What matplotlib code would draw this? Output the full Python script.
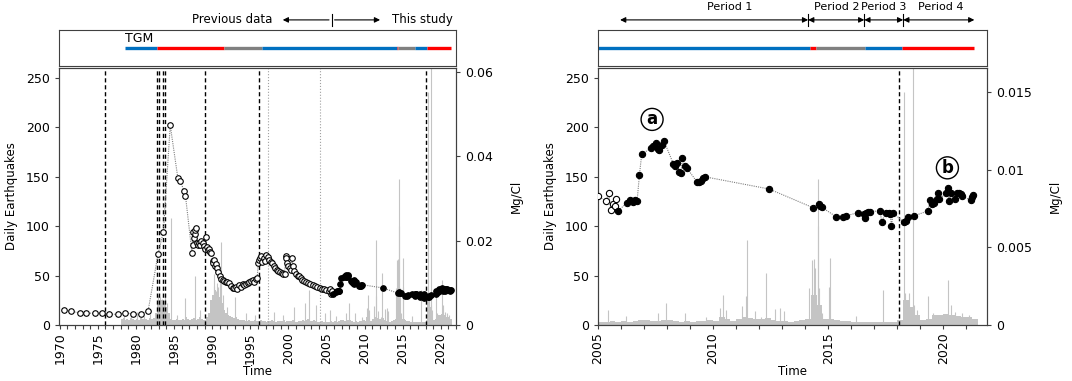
import matplotlib.pyplot as plt
import matplotlib.transforms as mtransforms

# Mg/Cl, previous data (open circles)
prev_year = [1970.5, 1971.5, 1972.6, 1973.5, 1974.6, 1975.5, 1976.5, 1977.6, 1978.6, 1979.6,
             1980.6, 1981.6, 1982.9, 1983.6, 1984.5, 1985.5, 1985.8, 1986.3, 1986.5,
             1987.35, 1987.45, 1987.5, 1987.6, 1987.7, 1987.8, 1987.9, 1988.0, 1988.15, 1988.3,
             1988.45, 1988.6, 1988.75, 1988.9, 1989.0, 1989.15, 1989.3, 1989.45, 1989.6, 1989.75,
             1989.9, 1990.05, 1990.15, 1990.3, 1990.4, 1990.55, 1990.7, 1990.8, 1991.0, 1991.2,
             1991.4, 1991.6, 1991.8, 1992.0, 1992.25, 1992.45, 1992.7, 1992.9, 1993.1, 1993.3,
             1993.5, 1993.75, 1994.0, 1994.2, 1994.45, 1994.7, 1994.9, 1995.1, 1995.3, 1995.5,
             1995.7, 1995.9, 1996.05, 1996.15, 1996.3, 1996.45, 1996.6, 1996.75, 1996.9, 1997.1,
             1997.3, 1997.5, 1997.7, 1997.9, 1998.1, 1998.3, 1998.5, 1998.7, 1998.9, 1999.1,
             1999.3, 1999.5, 1999.65, 1999.75, 1999.85, 2000.0, 2000.2, 2000.35, 2000.5, 2000.6,
             2000.8, 2001.0, 2001.2, 2001.4, 2001.6, 2001.8, 2002.0, 2002.3, 2002.6, 2002.9,
             2003.2, 2003.5, 2003.8, 2004.1, 2004.4, 2004.7, 2005.0, 2005.35, 2005.46, 2005.56,
             2005.67, 2005.72, 2005.77]
prev_mgcl = [0.0036, 0.0032, 0.0029, 0.0028, 0.0028, 0.0029, 0.0026, 0.0025, 0.0029, 0.0026,
             0.0025, 0.0034, 0.0168, 0.0221, 0.0473, 0.0348, 0.0342, 0.0318, 0.0306,
             0.0171, 0.0221, 0.0190, 0.0206, 0.0215, 0.0225, 0.0229, 0.0194, 0.0190, 0.0195,
             0.0190, 0.0198, 0.0194, 0.0187, 0.0180, 0.0209, 0.0185, 0.0178, 0.0180, 0.0173,
             0.0170, 0.0152, 0.0146, 0.0154, 0.0140, 0.0145, 0.0135, 0.0126, 0.0115, 0.0110,
             0.0107, 0.0104, 0.0101, 0.0103, 0.0099, 0.0092, 0.0088, 0.0087, 0.0091, 0.0086,
             0.0094, 0.0091, 0.0097, 0.0095, 0.0098, 0.0099, 0.0103, 0.0105, 0.0107, 0.0103,
             0.0110, 0.0112, 0.0146, 0.0154, 0.0158, 0.0164, 0.0150, 0.0158, 0.0152, 0.0166,
             0.0162, 0.0155, 0.0150, 0.0146, 0.0140, 0.0135, 0.0131, 0.0127, 0.0126, 0.0124,
             0.0122, 0.0121, 0.0164, 0.0158, 0.0146, 0.0140, 0.0135, 0.0130, 0.0158, 0.0140,
             0.0128, 0.0120, 0.0117, 0.0115, 0.0111, 0.0107, 0.0105, 0.0103, 0.0099, 0.0097,
             0.0095, 0.0093, 0.0090, 0.0087, 0.0086, 0.0085, 0.0083, 0.0080, 0.0085, 0.0074,
             0.0078, 0.0077, 0.0081]

# Mg/Cl, this study (filled circles)
study_year = [2005.87, 2006.28, 2006.40, 2006.50, 2006.60, 2006.70, 2006.80, 2006.90, 2007.30, 2007.40,
              2007.50, 2007.60, 2007.65, 2007.77, 2007.86, 2008.28, 2008.35, 2008.42, 2008.52, 2008.60,
              2008.67, 2008.80, 2008.87, 2009.29, 2009.40, 2009.47, 2009.54, 2009.63, 2012.43, 2014.35,
              2014.58, 2014.65, 2014.72, 2015.35, 2015.63, 2015.76, 2016.28, 2016.57, 2016.60, 2016.65,
              2016.74, 2016.80, 2017.26, 2017.32, 2017.50, 2017.64, 2017.70, 2017.75, 2017.82, 2018.29,
              2018.40, 2018.47, 2018.75, 2019.33, 2019.42, 2019.49, 2019.58, 2019.72, 2019.79, 2019.83,
              2020.14, 2020.20, 2020.25, 2020.35, 2020.50, 2020.60, 2020.68, 2020.76, 2020.80, 2021.20,
              2021.25, 2021.30]
study_mgcl = [0.00737, 0.00789, 0.00806, 0.00795, 0.00806, 0.00802, 0.00967, 0.01103, 0.01139, 0.01154,
              0.01176, 0.01133, 0.01129, 0.01161, 0.01189, 0.01037, 0.01024, 0.01044, 0.00989, 0.00978,
              0.01075, 0.01024, 0.01010, 0.00925, 0.00923, 0.00929, 0.00946, 0.00956, 0.00877, 0.00756,
              0.00780, 0.00769, 0.00759, 0.00698, 0.00694, 0.00703, 0.00724, 0.00716, 0.00688, 0.00724,
              0.00730, 0.00730, 0.00737, 0.00666, 0.00720, 0.00720, 0.00716, 0.00638, 0.00724, 0.00662,
              0.00670, 0.00698, 0.00705, 0.00735, 0.00806, 0.00780, 0.00789, 0.00810, 0.00849, 0.00810,
              0.00853, 0.00885, 0.00802, 0.00849, 0.00810, 0.00853, 0.00853, 0.00842, 0.00830, 0.00806,
              0.00827, 0.00838]

# daily earthquakes: background level per quarter year from 1978.0, plus spikes
eq_bg_start = 1978.0
eq_bg = [6, 7, 5, 6, 5, 7, 6, 5, 6, 5, 7, 6, 5, 6, 5, 7,
         6, 7, 12, 20, 22, 25, 24, 20, 18, 12, 6, 5,
         5, 6, 5, 5, 6, 5, 8, 6, 5, 6, 7, 5, 6, 8, 6, 5,
         5, 8, 12, 25, 30, 35, 32, 28, 30, 22, 15, 12, 10, 9, 8, 7,
         8, 6, 5, 5, 5, 4, 4, 5, 4, 4, 5, 4, 4, 5, 4, 4,
         3, 4, 4, 5, 4, 3, 4, 4, 4, 5, 3, 4, 4, 4, 5, 3,
         3, 4, 4, 5, 4, 5, 6, 4, 4, 5, 4, 3, 3, 4, 3, 3,
         3, 3, 4, 3, 4, 3, 4, 5, 5, 4, 4, 5, 5, 4, 3, 4,
         3, 4, 4, 5, 4, 8, 6, 4, 6, 8, 7, 6, 6, 7, 5, 4,
         4, 3, 4, 5, 6, 30, 20, 6, 6, 5, 4, 4, 3, 3, 3, 3,
         3, 3, 3, 3, 5, 25, 18, 10, 5, 6, 10, 10, 11, 10, 9, 8,
         8, 6]
spike_year = [1978.4, 1979.3, 1980.2, 1981.1, 1981.9, 1982.85, 1983.15, 1983.45, 1983.75, 1984.05,
              1984.6, 1985.4, 1986.5, 1987.8, 1988.4, 1989.5, 1990.2, 1990.25, 1990.45, 1990.6,
              1990.8, 1991.05, 1991.2, 1991.45, 1991.9, 1993.0, 1994.5, 1995.6, 1998.1, 1999.3,
              2000.8, 2002.2, 2002.7, 2003.6, 2004.8, 2005.42, 2006.2, 2007.6, 2007.96, 2008.8,
              2009.7, 2010.3, 2010.42, 2010.55, 2011.24, 2011.45, 2011.48, 2011.8, 2012.1, 2012.32,
              2012.68, 2012.9, 2013.1, 2014.16, 2014.3, 2014.37, 2014.44, 2014.54, 2014.56, 2014.62,
              2014.72, 2015.04, 2015.1, 2016.2, 2017.38, 2018.3, 2018.33, 2018.38, 2018.5, 2018.7,
              2018.73, 2018.85, 2019.34, 2019.55, 2020.22, 2020.32, 2020.5, 2020.8, 2021.1]
spike_count = [12, 10, 13, 9, 11, 30, 28, 26, 32, 22,
               108, 10, 27, 50, 15, 12, 39, 52, 34, 42,
               38, 45, 84, 30, 18, 28, 12, 10, 13, 10,
               18, 22, 35, 20, 12, 15, 9, 12, 22, 12,
               8, 17, 30, 15, 19, 29, 86, 14, 8, 53,
               16, 17, 14, 37, 66, 67, 58, 148, 100, 37,
               12, 38, 68, 9, 35, 236, 32, 15, 32, 400,
               20, 15, 29, 12, 46, 20, 13, 12, 10]

eruptions = [1976.0, 1982.82, 1982.99, 1983.57, 1983.87, 1989.02, 1996.1, 2018.06]
dotted_years = [1997.3, 2004.2]

# alert level bar in the top strip
alert_start = [1978.5, 1982.7, 1991.6, 1996.6, 2014.2, 2014.45, 2016.6, 2018.2]
alert_end = [1982.7, 1991.6, 1996.6, 2014.2, 2014.45, 2016.6, 2018.2, 2021.35]
alert_color = ['#0070c0', '#ff0000', '#808080', '#0070c0', '#ff0000', '#808080', '#0070c0', '#ff0000']

period_bounds = [2005.96, 2014.13, 2016.57, 2018.26, 2021.35]
period_labels = ['Period 1', 'Period 2', 'Period 3', 'Period 4']
period_label_x = [2010.7, 2015.38, 2017.42, 2019.9]

left_yticks = [0, 50, 100, 150, 200, 250]
left_r_ticks = [0, 0.02, 0.04, 0.06]
left_r_labels = ['0', '0.02', '0.04', '0.06']
right_r_ticks = [0, 0.005, 0.01, 0.015]
right_r_labels = ['0', '0.005', '0.01', '0.015']

SPINE = '#404040'
BAR = '#c4c4c4'

fig = plt.figure(figsize=(10.72, 3.81), dpi=100)


def style_spines(a):
    for s in a.spines.values():
        s.set_color(SPINE)
        s.set_linewidth(0.8)


def make_panel(x0, w, xlim, ylim2, r_ticks, r_labels, major, ms):
    ax = fig.add_axes([x0, 0.147, w, 0.6745])
    strip = fig.add_axes([x0, 0.8268, w, 0.0945])

    # earthquakes
    bg_x = [eq_bg_start + 0.25 * i for i in range(len(eq_bg))]
    ax.bar(bg_x, eq_bg, width=0.25, align='edge', color=BAR, lw=0, zorder=1)
    ax.vlines(spike_year, 0, spike_count, color=BAR, lw=0.8, zorder=1)
    for e in eruptions:
        ax.axvline(e, color='black', ls=(0, (3, 2)), lw=1, zorder=2)
    for d in dotted_years:
        ax.axvline(d, color='#a0a0a0', ls=':', lw=0.8, zorder=2)

    ax.set_xlim(*xlim)
    ax.set_ylim(0, 260)
    ax.set_yticks(left_yticks)
    ax.set_xticks(major)
    ax.set_xticks(list(range(int(round(xlim[0] + 0.49)), int(xlim[1]) + 1)), minor=True)
    ax.set_xticklabels([str(m) for m in major], rotation=90)
    ax.tick_params(axis='both', which='both', direction='out', length=3, width=0.8,
                   color=SPINE, labelsize=9)
    ax.tick_params(axis='x', which='both', pad=2)
    ax.set_ylabel('Daily Earthquakes', fontsize=8.5, labelpad=6)
    ax.set_xlabel('Time', fontsize=8.5, labelpad=1)
    style_spines(ax)

    # Mg/Cl
    ax2 = ax.twinx()
    all_year = prev_year + study_year
    all_mgcl = prev_mgcl + study_mgcl
    ax2.plot(all_year, all_mgcl, ls=(0, (1, 1)), color='#808080', lw=0.8, zorder=3)
    ax2.plot(prev_year, prev_mgcl, 'o', ms=ms, mfc='white', mec='black', mew=0.8, zorder=4)
    ax2.plot(study_year, study_mgcl, 'o', ms=ms, mfc='black', mec='black', mew=0.8, zorder=5)
    ax2.set_ylim(*ylim2)
    ax2.set_yticks(r_ticks)
    ax2.set_yticklabels(r_labels)
    ax2.tick_params(axis='y', direction='out', length=3, width=0.8, color=SPINE, labelsize=9)
    ax2.set_ylabel('Mg/Cl', fontsize=8.5, labelpad=12)
    style_spines(ax2)

    # top strip
    strip.set_xlim(*xlim)
    strip.set_ylim(0, 1)
    strip.set_xticks([])
    strip.set_yticks([])
    strip.hlines([0.49] * len(alert_start), alert_start, alert_end, colors=alert_color, lw=2.4)
    style_spines(strip)
    trans = mtransforms.blended_transform_factory(strip.transData, strip.transAxes)
    return ax, ax2, strip, trans


L = 59 / 1072
ax_l, ax2_l, strip_l, tr_l = make_panel(L, 397 / 1072, (1969.9, 2022.0), (0, 0.0609),
                                        left_r_ticks, left_r_labels, list(range(1970, 2021, 5)), 4)
strip_l.text(1978.5, 0.58, 'TGM', fontsize=9, ha='left', va='bottom')
ap = dict(arrowstyle='-|>', lw=0.8, color='black', mutation_scale=8)
strip_l.annotate('', xy=(1998.9, 1.28), xytext=(2005.7, 1.28), xycoords=tr_l, textcoords=tr_l,
                 arrowprops=ap, annotation_clip=False)
strip_l.annotate('', xy=(2012.4, 1.28), xytext=(2005.7, 1.28), xycoords=tr_l, textcoords=tr_l,
                 arrowprops=ap, annotation_clip=False)
strip_l.plot([2005.7, 2005.7], [1.12, 1.45], color='black', lw=0.8, transform=tr_l, clip_on=False)
strip_l.text(1997.9, 1.28, 'Previous data', fontsize=8.5, ha='right', va='center', transform=tr_l)
strip_l.text(2013.6, 1.28, 'This study', fontsize=8.5, ha='left', va='center', transform=tr_l)

R = 598 / 1072
ax_r, ax2_r, strip_r, tr_r = make_panel(R, 389 / 1072, (2005.0, 2021.9), (0, 0.01657),
                                        right_r_ticks, right_r_labels, [2005, 2010, 2015, 2020], 4.5)
ap2 = dict(arrowstyle='<|-|>', lw=0.8, color='black', mutation_scale=8, shrinkA=0, shrinkB=0)
for i, lab in enumerate(period_labels):
    a, b = period_bounds[i], period_bounds[i + 1]
    strip_r.annotate('', xy=(a, 1.28), xytext=(b, 1.28), xycoords=tr_r, textcoords=tr_r,
                     arrowprops=ap2, annotation_clip=False)
    strip_r.text(period_label_x[i], 1.64, lab, fontsize=8, ha='center', va='center', transform=tr_r)
for b in period_bounds[1:-1]:
    strip_r.plot([b, b], [1.12, 1.45], color='black', lw=0.8, transform=tr_r, clip_on=False)

circ = dict(boxstyle='circle,pad=0.12', fc='white', ec='black', lw=1)
ax_r.text(2007.35, 208, 'a', fontsize=12, fontweight='bold', ha='center', va='center', bbox=circ, zorder=6)
ax_r.text(2020.18, 159, 'b', fontsize=12, fontweight='bold', ha='center', va='center', bbox=circ, zorder=6)

fig.savefig('out.png', dpi=100)
